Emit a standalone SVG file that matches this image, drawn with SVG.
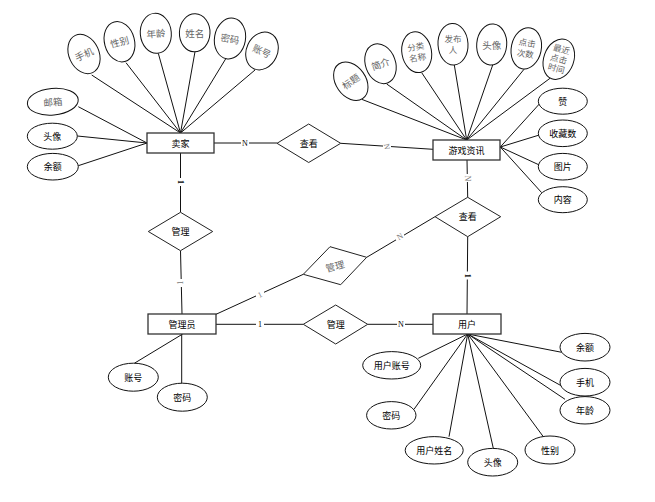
<svg xmlns="http://www.w3.org/2000/svg" width="655" height="502" viewBox="0 0 655 502">
<style>
.ent{fill:#fff;stroke:#333;stroke-width:1.3}
.rel{fill:#fff;stroke:#222;stroke-width:1}
.att{fill:#fff;stroke:#111;stroke-width:1}
.ln{stroke:#111;stroke-width:1;fill:none}
.t{font-family:"Noto Sans CJK SC","Liberation Sans",sans-serif;font-size:9px;fill:#000;text-anchor:middle;dominant-baseline:central}
.g{font-family:"Noto Sans CJK SC","Liberation Serif",serif;font-size:9.5px;fill:#666;text-anchor:middle;dominant-baseline:central}
.gs{font-family:"Noto Sans CJK SC","Liberation Serif",serif;font-size:8.5px;fill:#666;text-anchor:middle}
.lb{font-family:"Liberation Serif",serif;font-size:8px;fill:#000;text-anchor:middle;dominant-baseline:central}
.lg{font-family:"Liberation Serif",serif;font-size:8px;fill:#777;text-anchor:middle;dominant-baseline:central}
</style>
<rect width="655" height="502" fill="#fff"/>
<g id="connectors">
<line class="ln" x1="91.7" y1="75" x2="180.5" y2="133"/>
<line class="ln" x1="126" y1="62.7" x2="180.5" y2="133"/>
<line class="ln" x1="158.3" y1="53.3" x2="180.5" y2="133"/>
<line class="ln" x1="195" y1="51.7" x2="180.5" y2="133"/>
<line class="ln" x1="226" y1="58.3" x2="180.5" y2="133"/>
<line class="ln" x1="255" y1="70" x2="180.5" y2="133"/>
<line class="ln" x1="78.3" y1="106.7" x2="147" y2="143"/>
<line class="ln" x1="77.3" y1="136" x2="147" y2="143"/>
<line class="ln" x1="78.3" y1="165.7" x2="147" y2="143"/>
<line class="ln" x1="361.7" y1="99.3" x2="466.7" y2="140"/>
<line class="ln" x1="386.7" y1="84" x2="466.7" y2="140"/>
<line class="ln" x1="421.7" y1="72.7" x2="466.7" y2="140"/>
<line class="ln" x1="454.3" y1="65" x2="466.7" y2="140"/>
<line class="ln" x1="492.7" y1="65" x2="466.7" y2="140"/>
<line class="ln" x1="524" y1="69.3" x2="466.7" y2="140"/>
<line class="ln" x1="550" y1="78.3" x2="466.7" y2="140"/>
<line class="ln" x1="500.3" y1="147" x2="539.3" y2="104"/>
<line class="ln" x1="500.3" y1="147" x2="539.3" y2="135"/>
<line class="ln" x1="500.3" y1="147" x2="539.3" y2="165"/>
<line class="ln" x1="500.3" y1="147" x2="541.7" y2="192.7"/>
<line class="ln" x1="182.7" y1="334" x2="134.3" y2="363.3"/>
<line class="ln" x1="181.7" y1="334" x2="181.7" y2="383.3"/>
<line class="ln" x1="467.7" y1="334" x2="418.3" y2="358.3"/>
<line class="ln" x1="467.7" y1="334" x2="414" y2="409.3"/>
<line class="ln" x1="467.7" y1="334" x2="449" y2="436.7"/>
<line class="ln" x1="467.7" y1="334" x2="493.3" y2="448.3"/>
<line class="ln" x1="467.7" y1="334" x2="543.3" y2="436.7"/>
<line class="ln" x1="467.7" y1="334" x2="565" y2="399.3"/>
<line class="ln" x1="467.7" y1="334" x2="561.7" y2="386"/>
<line class="ln" x1="467.7" y1="334" x2="561.7" y2="352.3"/>
<line class="ln" x1="214" y1="143" x2="277" y2="143"/>
<line class="ln" x1="340.7" y1="143.3" x2="433" y2="149.3"/>
<line class="ln" x1="180.5" y1="153" x2="180.5" y2="212.3"/>
<line class="ln" x1="180.5" y1="250.7" x2="182" y2="314"/>
<line class="ln" x1="216" y1="314.3" x2="303.3" y2="274.3"/>
<line class="ln" x1="366.7" y1="257.3" x2="435" y2="216.7"/>
<line class="ln" x1="467" y1="160" x2="467.7" y2="197.3"/>
<line class="ln" x1="467.7" y1="236.7" x2="467" y2="314"/>
<line class="ln" x1="216" y1="324.3" x2="303.3" y2="324.3"/>
<line class="ln" x1="367.7" y1="324.3" x2="433" y2="324.3"/>
<rect x="241" y="139" width="8" height="8" fill="#fff"/>
<text class="lb" x="245" y="143.3">N</text>
<rect x="383" y="142.5" width="8" height="8" fill="#fff"/>
<text class="lg" x="386.7" y="146.7" transform="rotate(80 386.7 146.7)">N</text>
<rect x="176.5" y="178" width="8" height="8" fill="#fff"/>
<text class="lb" x="180.5" y="182" font-weight="bold" transform="rotate(90 180.5 182)">1</text>
<rect x="177" y="279" width="8" height="8" fill="#fff"/>
<text class="lg" x="181" y="282.7" transform="rotate(-90 181 282.7)">1</text>
<rect x="256" y="291" width="8" height="8" fill="#fff"/>
<text class="lg" x="260" y="295" transform="rotate(-25 260 295)">1</text>
<rect x="396" y="232.5" width="8" height="8" fill="#fff"/>
<text class="lg" x="400" y="236.7" transform="rotate(-30 400 236.7)">N</text>
<rect x="463" y="174" width="8" height="8" fill="#fff"/>
<text class="lg" x="467" y="178.3" transform="rotate(90 467 178.3)">N</text>
<rect x="463.5" y="271.5" width="8" height="8" fill="#fff"/>
<text class="lb" x="467.5" y="275.7" font-weight="bold" transform="rotate(90 467.5 275.7)">1</text>
<rect x="256" y="320" width="8" height="8" fill="#fff"/>
<text class="lb" x="260" y="324.3">1</text>
<rect x="397" y="320" width="8" height="8" fill="#fff"/>
<text class="lb" x="401" y="324.3">N</text>
</g>
<g id="seller">
<rect class="ent" x="147" y="133" width="67" height="20"/>
<text class="t" x="180.5" y="143">卖家</text>
</g>
<g id="gameinfo">
<rect class="ent" x="433" y="140" width="67" height="20"/>
<text class="t" x="466.5" y="150">游戏资讯</text>
</g>
<g id="admin">
<rect class="ent" x="148" y="314" width="68" height="20"/>
<text class="t" x="182" y="324">管理员</text>
</g>
<g id="user">
<rect class="ent" x="433" y="314" width="68" height="20"/>
<text class="t" x="467" y="324">用户</text>
</g>
<g id="rel-view1">
<polygon class="rel" points="308.7,124 340.7,143.3 308.7,162.5 277,143.3"/>
<text class="t" x="308.7" y="143.3">查看</text>
</g>
<g id="rel-manage1">
<polygon class="rel" points="180.5,212.3 212.7,231.5 180.5,250.7 148.3,231.5"/>
<text class="t" x="180.5" y="231.5">管理</text>
</g>
<g id="rel-manage2">
<polygon class="rel" points="303.3,274.3 330,246.7 366.7,257.3 340.7,284.7"/>
<text class="g" x="335" y="266" transform="rotate(-15 335 266)">管理</text>
</g>
<g id="rel-view2">
<polygon class="rel" points="467.7,197.3 500.7,216.7 467.7,236.7 435,216.7"/>
<text class="t" x="467.7" y="216.7">查看</text>
</g>
<g id="rel-manage3">
<polygon class="rel" points="335.7,305 367.7,324.3 335.7,344 303.3,324.3"/>
<text class="t" x="335.7" y="324.3">管理</text>
</g>
<g id="seller-attrs">
<g id="s-phone"><ellipse class="att" cx="84" cy="54" rx="15" ry="20.5" transform="rotate(-25 84 54)"/><text class="g" x="84" y="54" transform="rotate(-25 84 54)">手机</text></g>
<g id="s-gender"><ellipse class="att" cx="119.5" cy="41.7" rx="15" ry="20.5" transform="rotate(-15 119.5 41.7)"/><text class="g" x="119.5" y="41.7" transform="rotate(-15 119.5 41.7)">性别</text></g>
<g id="s-age"><ellipse class="att" cx="155.8" cy="33.3" rx="15.5" ry="20" transform="rotate(-5 155.8 33.3)"/><text class="g" x="155.8" y="33.3" transform="rotate(-5 155.8 33.3)">年龄</text></g>
<g id="s-name"><ellipse class="att" cx="194.7" cy="32.8" rx="15.3" ry="19" transform="rotate(2 194.7 32.8)"/><text class="g" x="194.7" y="32.8">姓名</text></g>
<g id="s-pwd"><ellipse class="att" cx="230" cy="38.5" rx="15.5" ry="20.5" transform="rotate(10 230 38.5)"/><text class="g" x="230" y="38.5" transform="rotate(10 230 38.5)">密码</text></g>
<g id="s-acct"><ellipse class="att" cx="262" cy="51" rx="15.5" ry="19.5" transform="rotate(25 262 51)"/><text class="g" x="262" y="51" transform="rotate(25 262 51)">账号</text></g>
<g id="s-mail"><ellipse class="att" cx="52.8" cy="101.7" rx="25.5" ry="13.3" transform="rotate(-5 52.8 101.7)"/><text class="g" x="52.8" y="101.7" transform="rotate(-5 52.8 101.7)">邮箱</text></g>
<g id="s-avatar"><ellipse class="att" cx="52.3" cy="136.2" rx="25" ry="13"/><text class="t" x="52.3" y="136.2">头像</text></g>
<g id="s-balance"><ellipse class="att" cx="52.8" cy="166.7" rx="25.5" ry="13.3"/><text class="t" x="52.8" y="166.7">余额</text></g>
</g>
<g id="game-attrs">
<g id="g-title"><ellipse class="att" cx="350.8" cy="81.2" rx="15" ry="21" transform="rotate(-35 350.8 81.2)"/><text class="g" x="350.8" y="81.2" transform="rotate(-35 350.8 81.2)">标题</text></g>
<g id="g-intro"><ellipse class="att" cx="380.5" cy="63.7" rx="15" ry="20.5" transform="rotate(-20 380.5 63.7)"/><text class="g" x="380.5" y="63.7" transform="rotate(-20 380.5 63.7)">简介</text></g>
<g id="g-cat"><ellipse class="att" cx="416.7" cy="52.2" rx="14.8" ry="20.5" transform="rotate(-10 416.7 52.2)"/><text class="gs" transform="rotate(-10 416.7 52.2)"><tspan x="416.7" y="50">分类</tspan><tspan x="416.7" y="61">名称</tspan></text></g>
<g id="g-pub"><ellipse class="att" cx="453" cy="44.2" rx="15" ry="20.8" transform="rotate(-3 453 44.2)"/><text class="gs"><tspan x="453" y="42">发布</tspan><tspan x="453" y="53">人</tspan></text></g>
<g id="g-avatar"><ellipse class="att" cx="491.7" cy="44.5" rx="15" ry="20.5" transform="rotate(5 491.7 44.5)"/><text class="g" x="491.7" y="44.5">头像</text></g>
<g id="g-clicks"><ellipse class="att" cx="526.3" cy="48.3" rx="15" ry="20.8" transform="rotate(12 526.3 48.3)"/><text class="gs" transform="rotate(10 526.3 48.3)"><tspan x="526.3" y="46">点击</tspan><tspan x="526.3" y="57">次数</tspan></text></g>
<g id="g-recent"><ellipse class="att" cx="558.8" cy="59.2" rx="15" ry="20.8" transform="rotate(20 558.8 59.2)"/><text class="gs" font-size="8px" transform="rotate(15 558.8 59.2)"><tspan x="558.8" y="52">最近</tspan><tspan x="558.8" y="62">点击</tspan><tspan x="558.8" y="72">时间</tspan></text></g>
<g id="g-like"><ellipse class="att" cx="562.8" cy="101.2" rx="24.5" ry="13"/><text class="t" x="562.8" y="101.2">赞</text></g>
<g id="g-fav"><ellipse class="att" cx="562.8" cy="133.3" rx="24.5" ry="13.3"/><text class="t" x="562.8" y="133.3">收藏数</text></g>
<g id="g-img"><ellipse class="att" cx="562.8" cy="166.7" rx="24.5" ry="13.3"/><text class="t" x="562.8" y="166.7">图片</text></g>
<g id="g-content"><ellipse class="att" cx="562.8" cy="199.7" rx="24.5" ry="13"/><text class="t" x="562.8" y="199.7">内容</text></g>
</g>
<g id="admin-attrs">
<g id="a-acct"><ellipse class="att" cx="133.3" cy="377.2" rx="25" ry="14"/><text class="t" x="133.3" y="377.2">账号</text></g>
<g id="a-pwd"><ellipse class="att" cx="182.3" cy="397.2" rx="25" ry="14"/><text class="t" x="182.3" y="397.2">密码</text></g>
</g>
<g id="user-attrs">
<g id="u-acct"><ellipse class="att" cx="391.7" cy="365.3" rx="29" ry="13.7"/><text class="t" x="391.7" y="365.3">用户账号</text></g>
<g id="u-pwd"><ellipse class="att" cx="391.3" cy="415.3" rx="24.7" ry="13.7"/><text class="t" x="391.3" y="415.3">密码</text></g>
<g id="u-name"><ellipse class="att" cx="434.2" cy="450.3" rx="29" ry="13.7"/><text class="t" x="434.2" y="450.3">用户姓名</text></g>
<g id="u-avatar"><ellipse class="att" cx="492.7" cy="462.2" rx="25" ry="13.8"/><text class="t" x="492.7" y="462.2">头像</text></g>
<g id="u-gender"><ellipse class="att" cx="550" cy="450" rx="25" ry="14"/><text class="t" x="550" y="450">性别</text></g>
<g id="u-age"><ellipse class="att" cx="585" cy="410.3" rx="25" ry="13.7"/><text class="t" x="585" y="410.3">年龄</text></g>
<g id="u-phone"><ellipse class="att" cx="585" cy="382.2" rx="25" ry="13.8"/><text class="t" x="585" y="382.2">手机</text></g>
<g id="u-balance"><ellipse class="att" cx="585" cy="347.2" rx="25" ry="13.8"/><text class="t" x="585" y="347.2">余额</text></g>
</g>
</svg>
